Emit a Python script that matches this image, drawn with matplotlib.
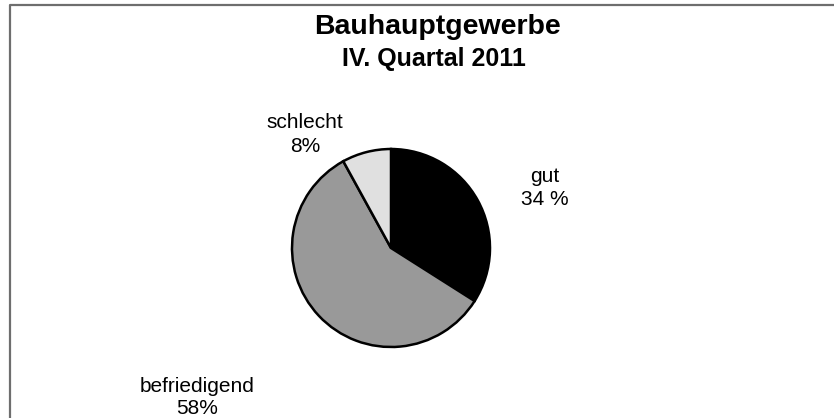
import matplotlib
matplotlib.use("Agg")
import matplotlib.pyplot as plt

plt.rcParams['font.family'] = ['Liberation Sans', 'DejaVu Sans']

# data
categories = ["gut", "befriedigend", "schlecht"]
shares = [34, 58, 8]
share_labels = ["34 %", "58%", "8%"]
colors = ["#000000", "#999999", "#e0e0e0"]

W, H = 834, 418
fig = plt.figure(figsize=(W / 100, H / 100), dpi=100)

# frame (only top and left edge visible in the original)
fig.add_artist(plt.Line2D([10 / W, 10 / W, 1], [0, 1 - 5 / H, 1 - 5 / H],
                          color="#6e6e6e", lw=1.6, transform=fig.transFigure))

# pie axes, center (391, 248) px, radius 99 px
cx, cy, r = 391, 248, 99
pad = 1.05
ax = fig.add_axes([(cx - r * pad) / W, (H - cy - r * pad) / H,
                   2 * r * pad / W, 2 * r * pad / H])
wedges, _ = ax.pie(shares, colors=colors, startangle=90, counterclock=False,
                   wedgeprops=dict(edgecolor="black", linewidth=1.8))
ax.set_xlim(-pad, pad)
ax.set_ylim(-pad, pad)
ax.set_aspect("equal")
ax.axis("off")

# labels: (x center px, baseline of first line px, baseline of second line px)
label_pos = [(545, 182, 205), (197, 392, 414), (305, 128, 152)]
for name, pct, (lx, y1, y2) in zip(categories, share_labels, label_pos):
    fig.text(lx / W, 1 - y1 / H, name, ha="center", va="baseline", fontsize=15)
    fig.text(lx / W, 1 - y2 / H, pct, ha="center", va="baseline", fontsize=15)

fig.text(438 / W, 1 - 34 / H, "Bauhauptgewerbe", ha="center", va="baseline",
         fontsize=20.5, fontweight="bold")
fig.text(434 / W, 1 - 66 / H, "IV. Quartal 2011", ha="center", va="baseline",
         fontsize=18, fontweight="bold")

fig.savefig("out.png", dpi=100, facecolor="white")
